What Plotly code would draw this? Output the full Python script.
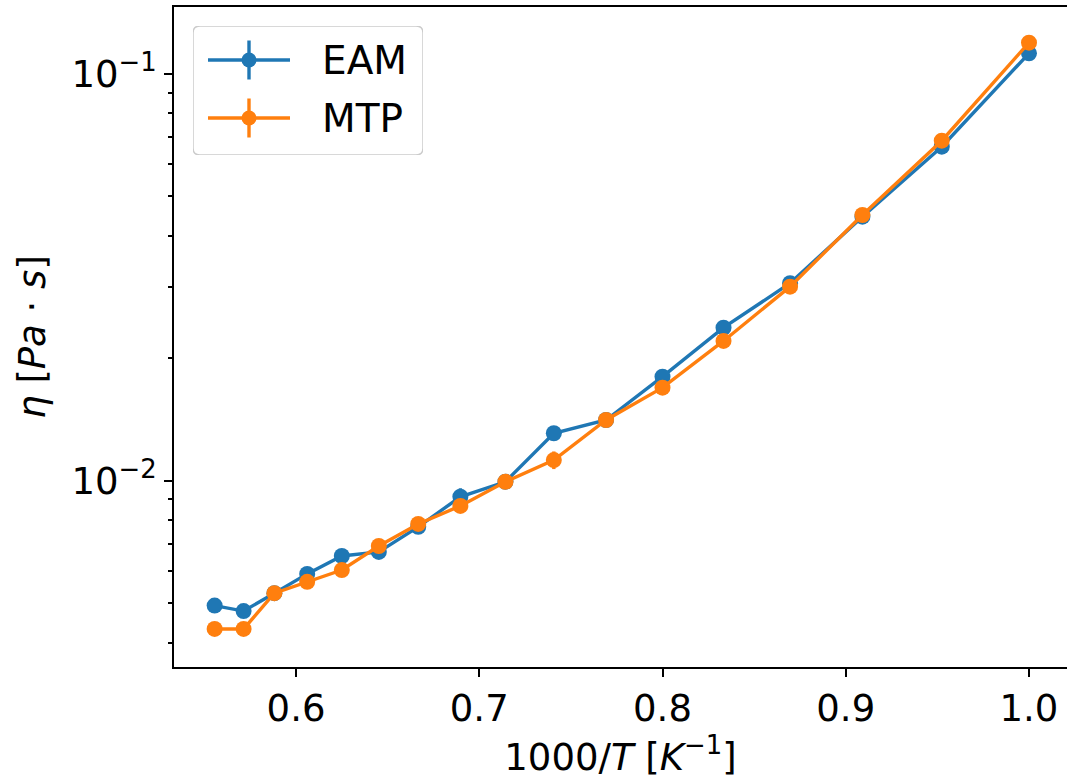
import plotly.graph_objects as go

# ---------------- data ----------------
inv_T = [0.5556, 0.5714, 0.5882, 0.6061, 0.6250, 0.6452, 0.6667, 0.6897, 0.7143,
         0.7407, 0.7692, 0.8000, 0.8333, 0.8696, 0.9091, 0.9524, 1.0000]
eam = [0.00493, 0.00478, 0.00529, 0.00590, 0.00653, 0.00668, 0.00770, 0.00913, 0.00994,
       0.01308, 0.01410, 0.01802, 0.02378, 0.03058, 0.04458, 0.06626, 0.1124]
eam_err = [0.00008, 0.00008, 0.00008, 0.00010, 0.00010, 0.00012, 0.00012, 0.00045, 0.00015,
           0.00020, 0.00020, 0.00025, 0.00030, 0.00040, 0.00050, 0.00080, 0.0012]
mtp = [0.00432, 0.00432, 0.00529, 0.00564, 0.00603, 0.00691, 0.00783, 0.00867, 0.00994,
       0.01124, 0.01410, 0.01693, 0.02206, 0.03000, 0.04501, 0.06855, 0.1194]
mtp_err = [0.00008, 0.00008, 0.00008, 0.00010, 0.00010, 0.00012, 0.00012, 0.00015, 0.00015,
           0.00056, 0.00020, 0.00025, 0.00030, 0.00040, 0.00050, 0.00080, 0.0012]
series_names = ["EAM", "MTP"]
colors = ["#1f77b4", "#ff7f0e"]
x_ticks = [0.6, 0.7, 0.8, 0.9, 1.0]
x_ticktext = ["0.6", "0.7", "0.8", "0.9", "1.0"]
y_ticks = [0.01, 0.1]
y_ticktext = ["10<sup>\u22122</sup>", "10<sup>\u22121</sup>"]
y_minor = [0.004, 0.005, 0.006, 0.007, 0.008, 0.009,
           0.02, 0.03, 0.04, 0.05, 0.06, 0.07, 0.08, 0.09]

FONT = "DejaVu Sans"
LW = 3.4
MS = 16

fig = go.Figure()
for name, ys, errs, c in zip(series_names, [eam, mtp], [eam_err, mtp_err], colors):
    fig.add_trace(go.Scatter(
        x=inv_T, y=ys, mode="lines+markers", name=name,
        line=dict(color=c, width=LW),
        marker=dict(color=c, size=MS),
        error_y=dict(type="data", array=errs, visible=True, thickness=LW, width=0, color=c),
        showlegend=False,
    ))

# ---------- custom legend drawn on its own hidden axes ----------
LEG_W, LEG_H = 230, 129
leg_rows = [34, 92]
key_x = [15, 56, 97]
for name, c, ry in zip(series_names, colors, leg_rows):
    fig.add_trace(go.Scatter(
        x=key_x, y=[ry] * 3, mode="lines", xaxis="x2", yaxis="y2",
        line=dict(color=c, width=LW), showlegend=False, hoverinfo="skip"))
    fig.add_trace(go.Scatter(
        x=[key_x[1]], y=[ry], mode="markers", xaxis="x2", yaxis="y2",
        marker=dict(color=c, size=15),
        error_y=dict(type="constant", value=19.5, thickness=LW, width=0, color=c),
        showlegend=False, hoverinfo="skip"))
    fig.add_annotation(x=127, y=ry, xref="x2", yref="y2", text=name, showarrow=False,
                       xanchor="left", yanchor="middle",
                       font=dict(family=FONT, size=39, color="black"))

r = 7
fig.add_shape(
    type="path", xref="x2", yref="y2", layer="below",
    path=(f"M {r},0 L {LEG_W - r},0 Q {LEG_W},0 {LEG_W},{r} L {LEG_W},{LEG_H - r} "
          f"Q {LEG_W},{LEG_H} {LEG_W - r},{LEG_H} L {r},{LEG_H} Q 0,{LEG_H} 0,{LEG_H - r} "
          f"L 0,{r} Q 0,0 {r},0 Z"),
    line=dict(color="#cccccc", width=1.5), fillcolor="rgba(255,255,255,0.8)")

PL, PR, PT, PB = 174, 0, 7, 113
W, H = 1067, 780
pw, ph = W - PL - PR, H - PT - PB
leg_left, leg_top = 193, 26

fig.update_layout(
    width=W, height=H,
    margin=dict(l=PL, r=PR, t=PT, b=PB, pad=0),
    paper_bgcolor="white", plot_bgcolor="white",
    font=dict(family=FONT, size=37, color="black"),
    showlegend=False,
    xaxis=dict(
        range=[0.53342, 1.02074], tickvals=x_ticks, ticktext=x_ticktext,
        showgrid=False, zeroline=False, showline=True, linecolor="black", linewidth=1.8,
        mirror=True, ticks="outside", ticklen=8, tickwidth=1.8, tickcolor="black",
        tickfont=dict(family=FONT, size=37),
        title=dict(text="1000/<i>T</i> [<i>K</i><sup>\u22121</sup>]",
                   font=dict(family=FONT, size=37), standoff=4),
    ),
    yaxis=dict(
        type="log", range=[-2.45808, -0.83526], tickvals=y_ticks, ticktext=y_ticktext,
        showgrid=False, zeroline=False, showline=True, linecolor="black", linewidth=1.8,
        ticks="outside", ticklen=8, tickwidth=1.8, tickcolor="black",
        tickfont=dict(family=FONT, size=37),
        minor=dict(tickvals=y_minor, ticks="outside", ticklen=4.5, tickwidth=1.5,
                   tickcolor="black", showgrid=False),
        title=dict(text="<i>\u03b7</i> [<i>Pa</i> \u00b7 <i>s</i>]",
                   font=dict(family=FONT, size=37), standoff=14),
    ),
    xaxis2=dict(
        domain=[(leg_left - PL) / pw, (leg_left + LEG_W - PL) / pw],
        range=[0, LEG_W], visible=False, anchor="y2", fixedrange=True,
    ),
    yaxis2=dict(
        domain=[1 - (leg_top + LEG_H - PT) / ph, 1 - (leg_top - PT) / ph],
        range=[LEG_H, 0], visible=False, anchor="x2", fixedrange=True,
    ),
)

fig.write_html("out.html")
